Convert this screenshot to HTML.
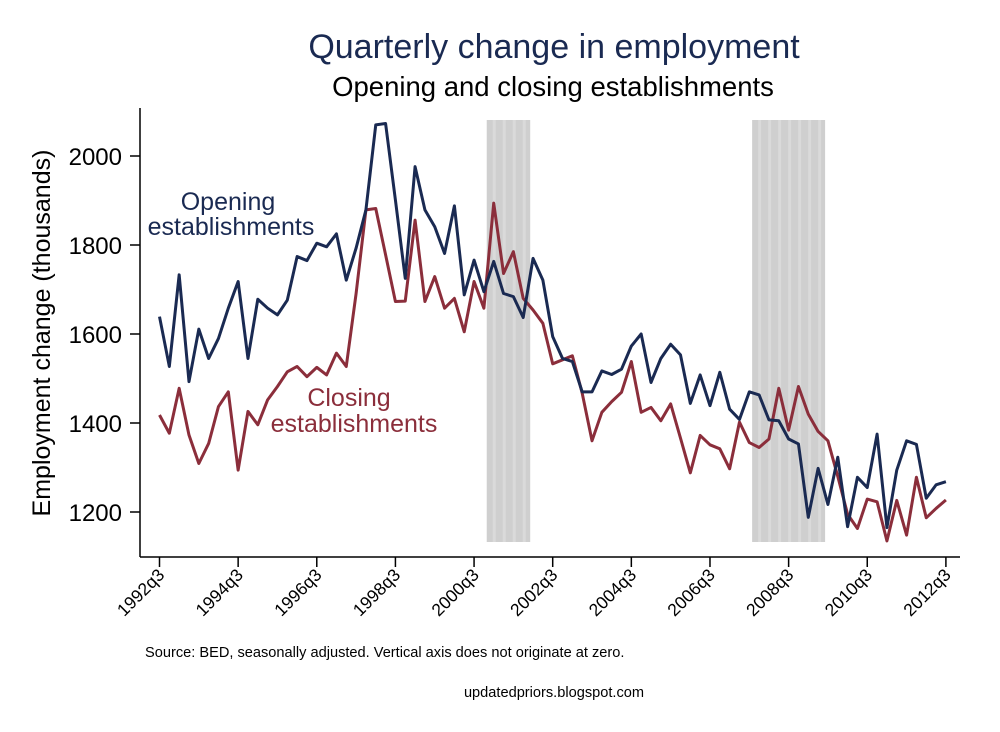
<!DOCTYPE html>
<html><head><meta charset="utf-8"><style>
body{margin:0;background:#fff}
svg text{font-family:"Liberation Sans",sans-serif}
</style></head><body>
<svg id="chart" width="1000" height="727" xmlns="http://www.w3.org/2000/svg">
<rect width="1000" height="727" fill="#fff"/>
<text x="554" y="58" font-size="34" fill="#1a2a52" text-anchor="middle">Quarterly change in employment</text>
<text x="553" y="96" font-size="27.5" fill="#000" text-anchor="middle">Opening and closing establishments</text>
<g id="bands"></g>
<g id="axes"></g>
<g id="lines"></g>
<text transform="translate(50,333) rotate(-90)" font-size="25" text-anchor="middle">Employment change (thousands)</text>
<text x="228" y="210" font-size="25" fill="#1a2a52" text-anchor="middle">Opening</text>
<text x="231" y="235" font-size="25" fill="#1a2a52" text-anchor="middle">establishments</text>
<text x="349" y="406" font-size="25" fill="#8b2e3b" text-anchor="middle">Closing</text>
<text x="354" y="432" font-size="25" fill="#8b2e3b" text-anchor="middle">establishments</text>
<text x="145" y="657" font-size="14.6">Source: BED, seasonally adjusted. Vertical axis does not originate at zero.</text>
<text x="554" y="697" font-size="14.6" text-anchor="middle">updatedpriors.blogspot.com</text>
</svg>
<script>
const opening=[1639,1527,1733,1493,1611,1545,1590,1658,1718,1545,1678,1658,1643,1676,1774,1765,1804,1796,1825,1721,1793,1879,2070,2073,1901,1725,1976,1879,1841,1781,1888,1688,1766,1695,1763,1691,1684,1637,1770,1721,1594,1545,1538,1470,1470,1517,1509,1521,1573,1600,1491,1545,1577,1553,1444,1508,1439,1514,1431,1408,1470,1463,1407,1405,1364,1353,1188,1298,1217,1323,1167,1278,1255,1375,1165,1294,1360,1352,1231,1261,1268];
const closing=[1418,1377,1478,1373,1309,1354,1437,1470,1294,1426,1396,1452,1482,1515,1527,1504,1525,1508,1557,1527,1691,1879,1882,1778,1673,1674,1856,1673,1729,1658,1680,1605,1718,1658,1894,1736,1785,1680,1654,1624,1533,1542,1551,1467,1360,1424,1448,1469,1538,1424,1435,1405,1443,1366,1288,1372,1351,1342,1297,1402,1356,1345,1364,1478,1384,1482,1420,1381,1360,1280,1195,1163,1229,1223,1135,1226,1148,1278,1187,1208,1227];
const yTicks=[1200,1400,1600,1800,2000];
const xTickLabels=["1992q3","1994q3","1996q3","1998q3","2000q3","2002q3","2004q3","2006q3","2008q3","2010q3","2012q3"];
const recessions=[[34,37],[61,67]];
const NS="http://www.w3.org/2000/svg";
const xs=i=>159.5+9.83*i;
const ys=v=>512-(v-1200)*0.445;
function mk(t,a,p){const e=document.createElementNS(NS,t);for(const k in a)e.setAttribute(k,a[k]);p.appendChild(e);return e;}
const bands=document.getElementById('bands');
recessions.forEach(r=>{
  const x0=xs(r[0])-7,x1=xs(r[1])+7;
  const b=mk('rect',{x:x0,y:120,width:x1-x0,height:422,fill:'#cfcfcf'},bands);
  
  
  for(let x=x0+6;x<x1-3;x+=10){
    const s=mk('rect',{x:x,y:120,width:3,height:422,fill:'#dadada'},bands);
    
    
  }
});
const ax=document.getElementById('axes');
const yl=mk('line',{x1:140,y1:108,x2:140,y2:557,stroke:'#000','stroke-width':1.5},ax);


const xl=mk('line',{x1:140,y1:557,x2:960,y2:557,stroke:'#000','stroke-width':1.5},ax);


yTicks.forEach(v=>{
  const y=ys(v);
  const t=mk('line',{x1:130,y1:y,x2:140,y2:y,stroke:'#000','stroke-width':1.5},ax);
  
  
  const l=mk('text',{x:122,y:y+9,'font-size':24,'text-anchor':'end'},ax);
  l.textContent=v;
  
  
});
xTickLabels.forEach((s,k)=>{
  const x=xs(k*8);
  const t=mk('line',{x1:x,y1:557,x2:x,y2:567,stroke:'#000','stroke-width':1.5},ax);
  
  
  const l=mk('text',{transform:`translate(${x+6},${576}) rotate(-45)`,'font-size':17.5,'text-anchor':'end'},ax);
  l.textContent=s;
  
  
});
const lg=document.getElementById('lines');
function line(d,c,n){
  const p=mk('polyline',{points:d.map((v,i)=>xs(i)+','+ys(v)).join(' '),fill:'none',stroke:c,'stroke-width':3,'stroke-linejoin':'round'},lg);
  
  
}
line(closing,'#8b2e3b','closing-line');
line(opening,'#1a2a52','opening-line');
</script>
</body></html>
